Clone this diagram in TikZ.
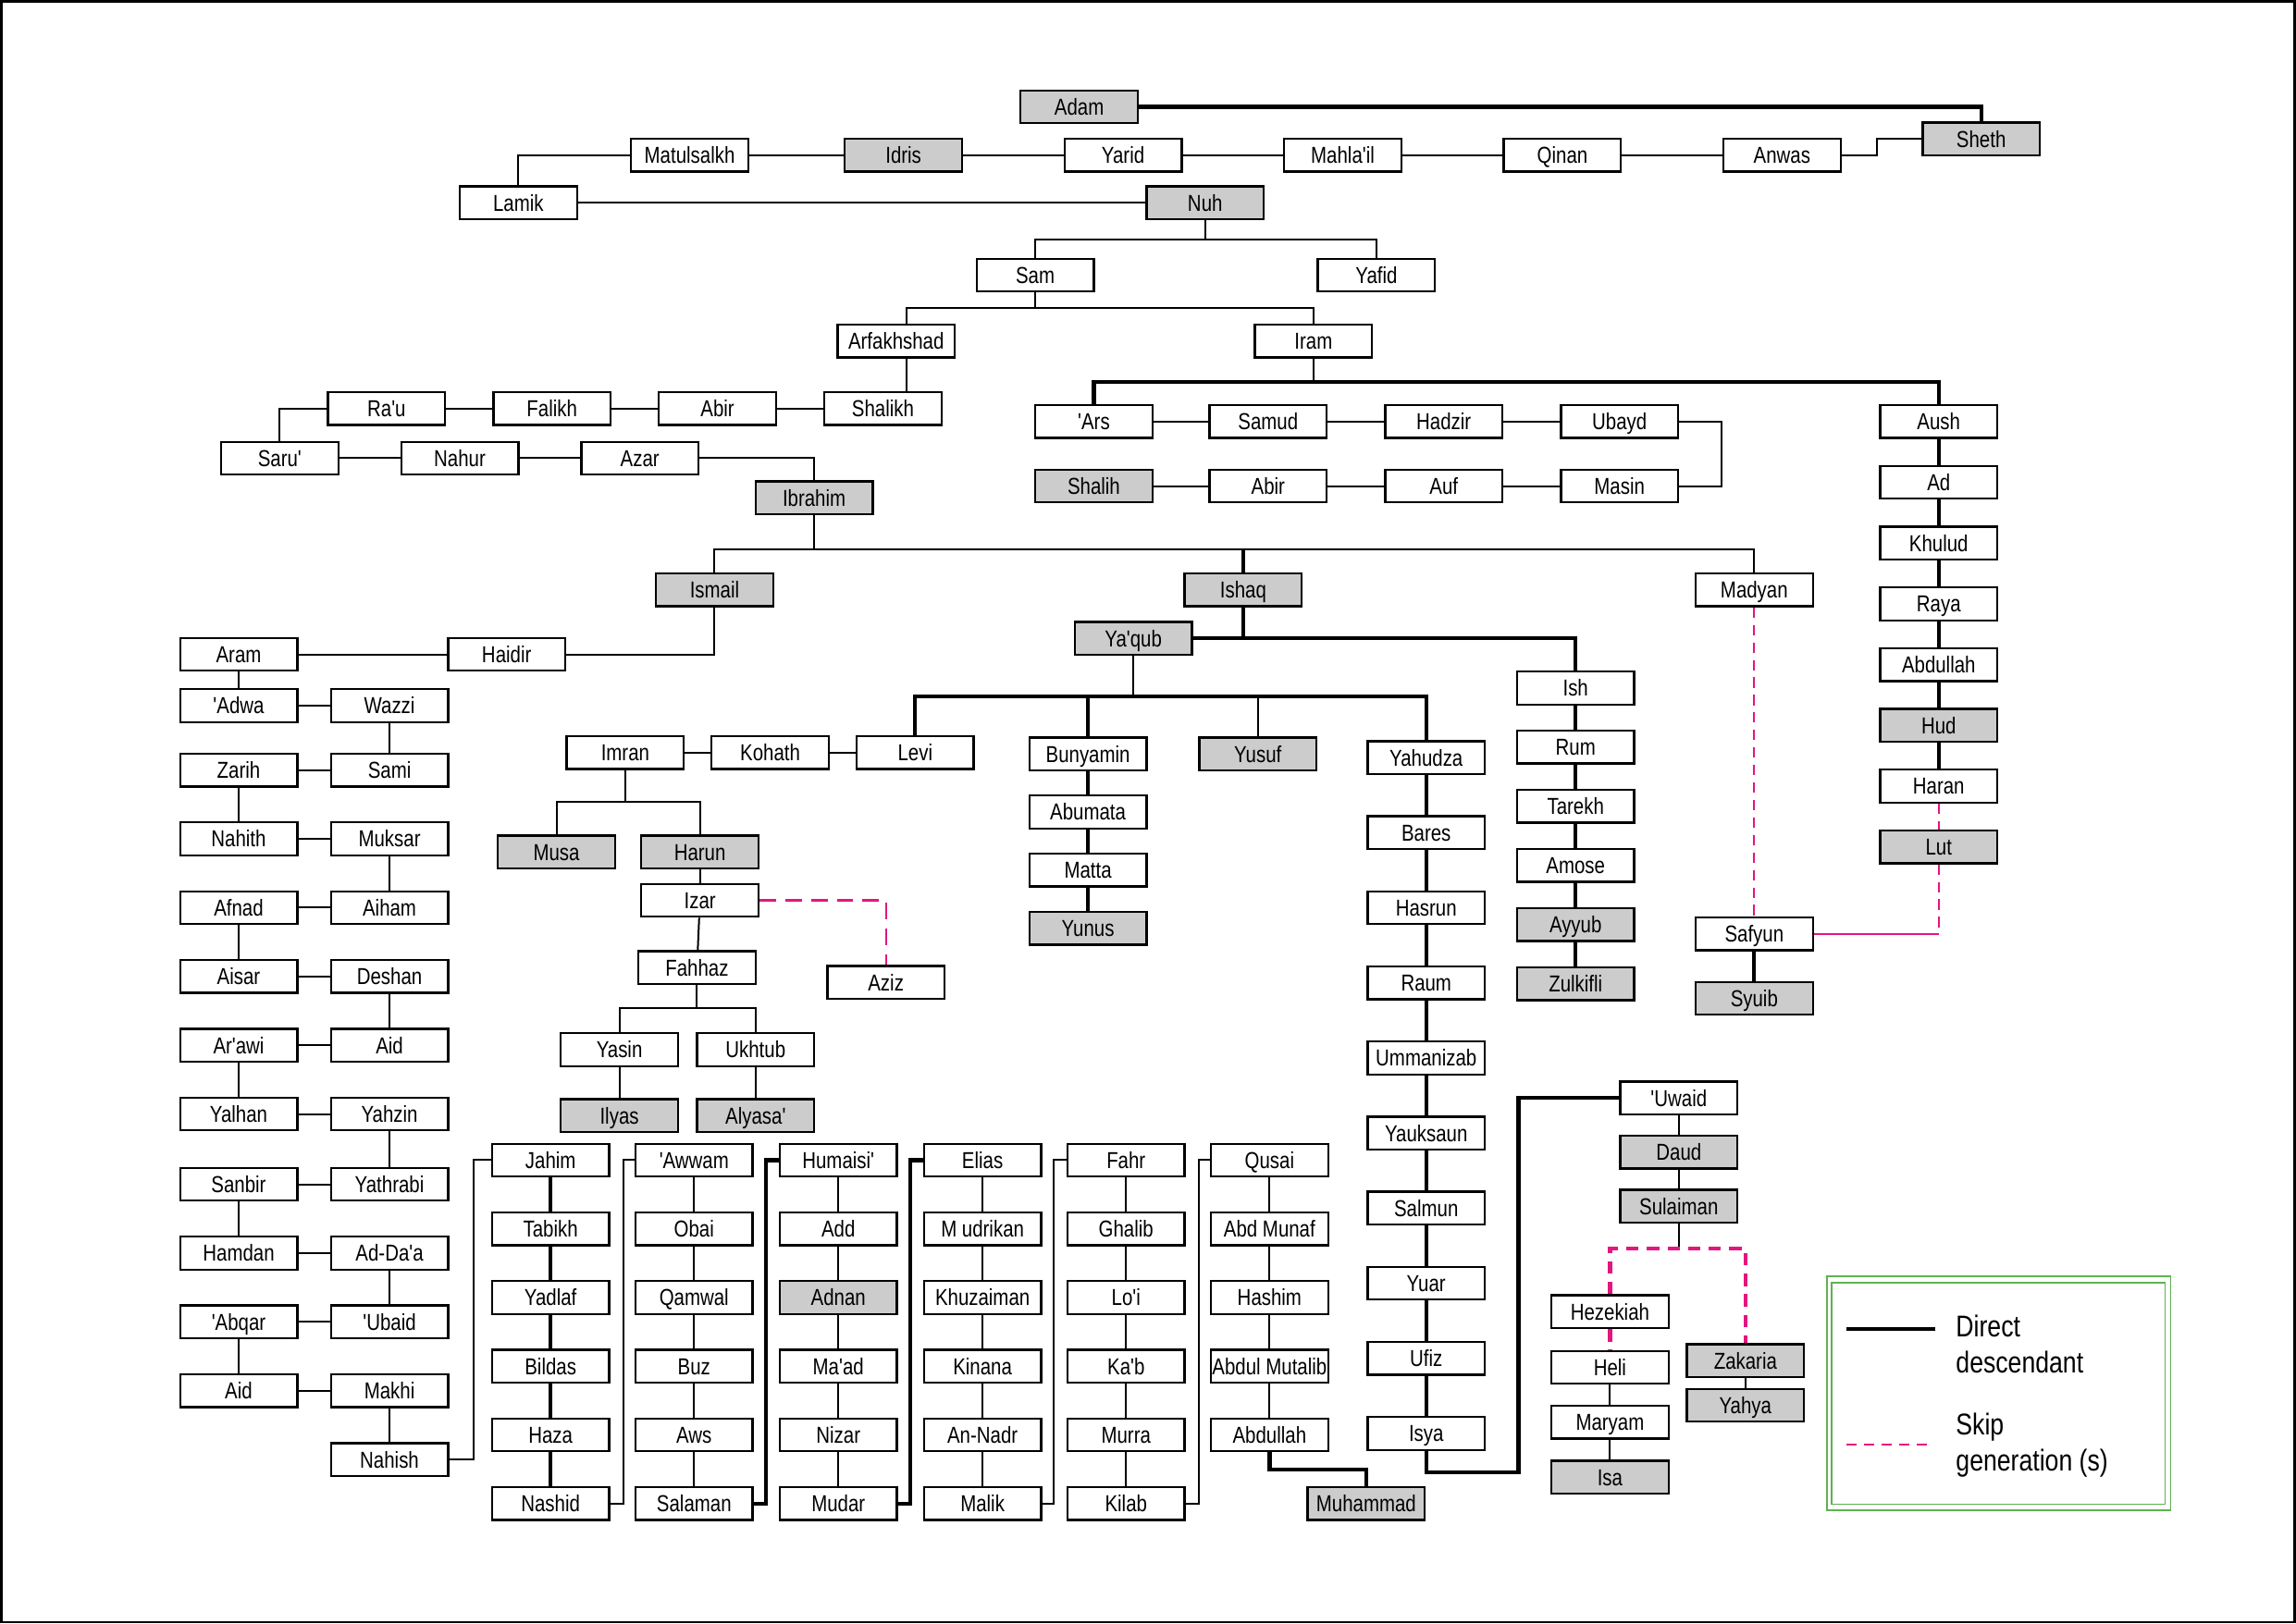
\documentclass[tikz,border=0pt]{standalone}
\usepackage{fontspec}
\newfontfamily\namefont{Liberation Sans}[FakeStretch=0.82]
\definecolor{skipmag}{HTML}{E4157F}
\definecolor{legendgreen}{HTML}{5DB350}
\newcommand{\boxfont}{\namefont\fontsize{11.2}{13}\selectfont}
\newcommand{\legfont}{\namefont\fontsize{14.6}{17}\selectfont}
\tikzset{
  person/.style={rectangle, draw=black, line width=1.05pt, fill=white,
                 minimum width=2cm, minimum height=0.56cm, inner sep=0pt,
                 text height=8pt, text depth=0pt, font=\boxfont},
  prophet/.style={person, fill=gray!40},
  link/.style={line width=0.9pt},
  direct/.style={line width=1.9pt},
  skip/.style={draw=skipmag, line width=0.8pt, dash pattern=on 5pt off 3.5pt},
  skipbold/.style={draw=skipmag, line width=1.9pt, dash pattern=on 6pt off 4pt},
}

\begin{document}
\begin{tikzpicture}[x=0.025cm, y=-0.025cm]
  \useasboundingbox (0,0) rectangle (1568,1109);
  \draw[line width=1.2pt] (1,1) rectangle (1567,1108);

  % Adam to Nuh
  \node[prophet] (adam) at (737,73) {Adam};
  \node[prophet] (sheth) at (1353,95) {Sheth};
  \node[person] (matul) at (471,106) {Matulsalkh};
  \node[prophet] (idris) at (617,106) {Idris};
  \node[person] (yarid) at (767,106) {Yarid};
  \node[person] (mahlail) at (917,106) {Mahla'il};
  \node[person] (qinan) at (1067,106) {Qinan};
  \node[person] (anwas) at (1217,106) {Anwas};
  \node[person] (lamik) at (354,138.5) {Lamik};
  \node[prophet] (nuh) at (823,138.5) {Nuh};
  \draw[direct] (adam) -| (sheth.north);
  \draw[link] (anwas.east) -- ++(24,0) |- (sheth.west);
  \foreach \a/\b in {matul/idris, idris/yarid, yarid/mahlail, mahlail/qinan, qinan/anwas}
    \draw[link] (\a) -- (\b);
  \draw[link] (lamik.north) |- (matul.west);
  \draw[link] (lamik) -- (nuh);

  % Nuh, Sam, Iram
  \node[person] (sam) at (707,188) {Sam};
  \node[person] (yafid) at (940,188) {Yafid};
  \coordinate (nuhbar) at (823,163.5);
  \draw[link] (nuh) -- (nuhbar);
  \draw[link] (sam.north) |- (nuhbar) -| (yafid.north);
  \node[person] (arfa) at (612,233) {Arfakhshad};
  \node[person] (iram) at (897,233) {Iram};
  \coordinate (sambar) at (707,210.5);
  \coordinate (arfaline) at (619,210.5);
  \coordinate (irambar) at (897,261);
  \draw[link] (sam) -- (sambar);
  \draw[link] (arfaline |- arfa.north) -- (arfaline) -| (iram.north);

  % Arfakhshad to Ibrahim
  \node[person] (shalikh) at (603,279) {Shalikh};
  \node[person] (abirA) at (490,279) {Abir};
  \node[person] (falikh) at (377,279) {Falikh};
  \node[person] (rau) at (264,279) {Ra'u};
  \node[person] (saru) at (191,313) {Saru'};
  \node[person] (nahur) at (314,313) {Nahur};
  \node[person] (azar) at (437,313) {Azar};
  \node[prophet] (ibrahim) at (556,340) {Ibrahim};
  \draw[link] (arfaline |- arfa.south) -- (arfaline |- shalikh.north);
  \foreach \a/\b in {shalikh/abirA, abirA/falikh, falikh/rau, saru/nahur, nahur/azar}
    \draw[link] (\a) -- (\b);
  \draw[link] (rau.west) -| (saru.north);
  \draw[link] (azar.east) -| (ibrahim.north);

  % Iram line
  \node[person] (ars) at (747,288) {'Ars};
  \node[person] (samud) at (866,288) {Samud};
  \node[person] (hadzir) at (986,288) {Hadzir};
  \node[person] (ubayd) at (1106,288) {Ubayd};
  \node[prophet] (shalih) at (747,332) {Shalih};
  \node[person] (abirB) at (866,332) {Abir};
  \node[person] (auf) at (986,332) {Auf};
  \node[person] (masin) at (1106,332) {Masin};
  \foreach \a/\b in {ars/samud, samud/hadzir, hadzir/ubayd, shalih/abirB, abirB/auf, auf/masin}
    \draw[link] (\a) -- (\b);
  \draw[link] (ubayd.east) -- ++(29,0) |- (masin.east);
  \foreach \t/\f [count=\i] in {Aush/white, Ad/white, Khulud/white, Raya/white,
      Abdullah/white, Hud/gray!40, Haran/white, Lut/gray!40}
    \node[person, fill=\f] (au\i) at (1324,{288+41.5*(\i-1)}) {\t};
  \foreach \i [evaluate=\i as \p using int(\i-1)] in {2,...,7}
    \draw[direct] (au\p) -- (au\i);
  \draw[skip] (au7) -- (au8);
  \draw[link] (iram) -- (irambar);
  \draw[direct] (ars.north) |- (irambar) -| (au1.north);

  % Ibrahim's sons
  \node[prophet] (ismail) at (488,403) {Ismail};
  \node[prophet] (ishaq) at (849,403) {Ishaq};
  \node[person] (madyan) at (1198,403) {Madyan};
  \node[person] (safyun) at (1198,638) {Safyun};
  \node[prophet] (syuib) at (1198,682) {Syuib};
  \coordinate (ibrabar) at (556,375);
  \draw[link] (ibrahim) -- (ibrabar);
  \draw[link] (ismail.north) |- (ibrabar) -| (madyan.north);
  \draw[direct] (ishaq.north) -- (ishaq.north |- ibrabar);
  \draw[skip] (madyan) -- (safyun);
  \draw[direct] (safyun) -- (syuib);
  \draw[skip] (au8) -- (au8 |- safyun);
  \draw[link, draw=skipmag] (au8 |- safyun) -- (safyun);

  % Ismail line
  \node[person] (haidir) at (346,447) {Haidir};
  \node[person] (aram) at (163,447) {Aram};
  \node[person] (adwa) at (163,482) {'Adwa};
  \node[person] (wazzi) at (266,482) {Wazzi};
  \node[person] (zarih) at (163,526) {Zarih};
  \node[person] (sami) at (266,526) {Sami};
  \node[person] (nahith) at (163,573) {Nahith};
  \node[person] (muksar) at (266,573) {Muksar};
  \node[person] (afnad) at (163,620) {Afnad};
  \node[person] (aiham) at (266,620) {Aiham};
  \node[person] (aisar) at (163,667) {Aisar};
  \node[person] (deshan) at (266,667) {Deshan};
  \node[person] (arawi) at (163,714) {Ar'awi};
  \node[person] (aidB) at (266,714) {Aid};
  \node[person] (yalhan) at (163,761) {Yalhan};
  \node[person] (yahzin) at (266,761) {Yahzin};
  \node[person] (sanbir) at (163,809) {Sanbir};
  \node[person] (yathrabi) at (266,809) {Yathrabi};
  \node[person] (hamdan) at (163,856) {Hamdan};
  \node[person] (addaa) at (266,856) {Ad-Da'a};
  \node[person] (abqar) at (163,903) {'Abqar};
  \node[person] (ubaid) at (266,903) {'Ubaid};
  \node[person] (aidA) at (163,950) {Aid};
  \node[person] (makhi) at (266,950) {Makhi};
  \node[person] (nahish) at (266,997) {Nahish};
  \draw[link] (ismail.south) |- (haidir.east);
  \foreach \a/\b in {haidir/aram, aram/adwa, adwa/wazzi, wazzi/sami, sami/zarih,
      zarih/nahith, nahith/muksar, muksar/aiham, aiham/afnad, afnad/aisar,
      aisar/deshan, deshan/aidB, aidB/arawi, arawi/yalhan, yalhan/yahzin,
      yahzin/yathrabi, yathrabi/sanbir, sanbir/hamdan, hamdan/addaa,
      addaa/ubaid, ubaid/abqar, abqar/aidA, aidA/makhi, makhi/nahish}
    \draw[link] (\a) -- (\b);

  % Ishaq and Ya'qub
  \node[prophet] (yaqub) at (774,436) {Ya'qub};
  \foreach \t/\f [count=\i] in {Ish/white, Rum/white, Tarekh/white, Amose/white,
      Ayyub/gray!40, Zulkifli/gray!40}
    \node[person, fill=\f] (is\i) at (1076,{470+40.4*(\i-1)}) {\t};
  \foreach \i [evaluate=\i as \p using int(\i-1)] in {2,...,6}
    \draw[direct] (is\p) -- (is\i);
  \draw[direct] (ishaq) -- (ishaq |- yaqub.east);
  \draw[direct] (yaqub.east) -| (is1.north);

  % Ya'qub's sons
  \node[person] (levi) at (625,514) {Levi};
  \node[person] (kohath) at (526,514) {Kohath};
  \node[person] (imran) at (427,514) {Imran};
  \node[prophet] (yusuf) at (859,515) {Yusuf};
  \foreach \t/\f [count=\i] in {Bunyamin/white, Abumata/white, Matta/white, Yunus/gray!40}
    \node[person, fill=\f] (bn\i) at (743,{515+39.7*(\i-1)}) {\t};
  \foreach \t [count=\i] in {Yahudza, Bares, Hasrun, Raum, Ummanizab, Yauksaun,
      Salmun, Yuar, Ufiz, Isya}
    \node[person] (yh\i) at (974,{517.5+51.3*(\i-1)}) {\t};
  \foreach \i [evaluate=\i as \p using int(\i-1)] in {2,...,4}
    \draw[direct] (bn\p) -- (bn\i);
  \foreach \i [evaluate=\i as \p using int(\i-1)] in {2,...,10}
    \draw[direct] (yh\p) -- (yh\i);
  \coordinate (yaqbar) at (774,475.5);
  \draw[link] (yaqub) -- (yaqbar);
  \draw[direct] (levi.north) |- (yaqbar) -| (yh1.north);
  \draw[direct] (bn1) -- (bn1 |- yaqbar);
  \draw[link] (yusuf) -- (yusuf |- yaqbar);

  % Levi line
  \node[prophet] (musa) at (380,582) {Musa};
  \node[prophet] (harun) at (478,582) {Harun};
  \node[person] (izar) at (478,615) {Izar};
  \node[person] (aziz) at (605,671) {Aziz};
  \node[person] (fahhaz) at (476,661) {Fahhaz};
  \node[person] (yasin) at (423,717) {Yasin};
  \node[person] (ukhtub) at (516,717) {Ukhtub};
  \node[prophet] (ilyas) at (423,762) {Ilyas};
  \node[prophet] (alyasa) at (516,762) {Alyasa'};
  \foreach \a/\b in {levi/kohath, kohath/imran, harun/izar, izar/fahhaz,
      yasin/ilyas, ukhtub/alyasa}
    \draw[link] (\a) -- (\b);
  \coordinate (imranbar) at (427,547.5);
  \draw[link] (imran) -- (imranbar);
  \draw[link] (musa.north) |- (imranbar) -| (harun.north);
  \draw[skip, line width=1pt, dash pattern=on 8pt off 4.5pt] (izar.east) -| (aziz.north);
  \coordinate (fahbar) at (476,688.5);
  \draw[link] (fahhaz) -- (fahbar);
  \draw[link] (yasin.north) |- (fahbar) -| (ukhtub.north);

  % Yahudza to Isa and Yahya
  \node[person] (uwaid) at (1146.5,750) {'Uwaid};
  \node[prophet] (daud) at (1146.5,787) {Daud};
  \node[prophet] (sulaiman) at (1146.5,824) {Sulaiman};
  \node[person] (hezekiah) at (1099.5,896) {Hezekiah};
  \node[person] (heli) at (1099.5,934) {Heli};
  \node[person] (maryam) at (1099.5,971.5) {Maryam};
  \node[prophet] (isa) at (1099.5,1009) {Isa};
  \node[prophet] (zakaria) at (1192,929.5) {Zakaria};
  \node[prophet] (yahya) at (1192,960) {Yahya};
  \coordinate (isyaturn) at (1037,1005.5);
  \draw[direct] (yh10.south) |- (isyaturn) |- (uwaid.west);
  \foreach \a/\b in {uwaid/daud, daud/sulaiman, heli/maryam, maryam/isa, zakaria/yahya}
    \draw[link] (\a) -- (\b);
  \coordinate (sulbar) at (1146.5,853);
  \draw[link] (sulaiman) -- (sulbar);
  \draw[skipbold] (hezekiah.north) |- (sulbar) -| (zakaria.north);
  \draw[skipbold] (hezekiah) -- (heli);

  % Nahish to Muhammad
  \foreach \t [count=\i] in {Jahim, Tabikh, Yadlaf, Bildas, Haza, Nashid}
    \node[person] (jh\i) at (376,{792.5+46.9*(\i-1)}) {\t};
  \foreach \t [count=\i] in {'Awwam, Obai, Qamwal, Buz, Aws, Salaman}
    \node[person] (aw\i) at (474,{792.5+46.9*(\i-1)}) {\t};
  \foreach \t/\f [count=\i] in {Humaisi'/white, Add/white, Adnan/gray!40,
      Ma'ad/white, Nizar/white, Mudar/white}
    \node[person, fill=\f] (hm\i) at (572.5,{792.5+46.9*(\i-1)}) {\t};
  \foreach \t [count=\i] in {Elias, M udrikan, Khuzaiman, Kinana, An-Nadr, Malik}
    \node[person] (el\i) at (671,{792.5+46.9*(\i-1)}) {\t};
  \foreach \t [count=\i] in {Fahr, Ghalib, Lo'i, Ka'b, Murra, Kilab}
    \node[person] (fr\i) at (769,{792.5+46.9*(\i-1)}) {\t};
  \foreach \t [count=\i] in {Qusai, Abd Munaf, Hashim, Abdul Mutalib, Abdullah}
    \node[person] (qs\i) at (867,{792.5+46.9*(\i-1)}) {\t};
  \node[prophet] (muhammad) at (933,1027) {Muhammad};
  \foreach \i [evaluate=\i as \p using int(\i-1)] in {2,...,6} {
    \draw[direct] (jh\p) -- (jh\i);
    \draw[link] (aw\p) -- (aw\i);
    \draw[link] (hm\p) -- (hm\i);
    \draw[link] (el\p) -- (el\i);
    \draw[link] (fr\p) -- (fr\i);
  }
  \foreach \i [evaluate=\i as \p using int(\i-1)] in {2,...,5}
    \draw[link] (qs\p) -- (qs\i);
  \draw[link] (nahish.east) -- ++(17,0) |- (jh1.west);
  \draw[link] (jh6.east) -- ++(9,0) |- (aw1.west);
  \draw[direct] (aw6.east) -- ++(8.5,0) |- (hm1.west);
  \draw[direct] (hm6.east) -- ++(8.5,0) |- (el1.west);
  \draw[link] (el6.east) -- ++(8,0) |- (fr1.west);
  \draw[link] (fr6.east) -- ++(9,0) |- (qs1.west);
  \coordinate (abdturn) at (933,1004);
  \draw[direct] (qs5.south) |- (abdturn) -- (muhammad.north);

  % legend
  \draw[legendgreen, line width=0.8pt] (1247.5,872) rectangle (1482.4,1031.6);
  \draw[legendgreen, line width=0.8pt] (1251,876) rectangle (1478.6,1027.6);
  \draw[direct] (1261,907.6) -- (1321.6,907.6);
  \draw[skip] (1261,986.6) -- (1316,986.6);
  \node[anchor=base west, inner sep=0pt, font=\legfont] (legd1) at (1335.5,913.3) {Direct};
  \node[anchor=base west, inner sep=0pt, font=\legfont] (legd2) at (1335.5,938) {descendant};
  \node[anchor=base west, inner sep=0pt, font=\legfont] (legs1) at (1335.5,980) {Skip};
  \node[anchor=base west, inner sep=0pt, font=\legfont] (legs2) at (1335.5,1005) {generation (s)};
\end{tikzpicture}
\end{document}
